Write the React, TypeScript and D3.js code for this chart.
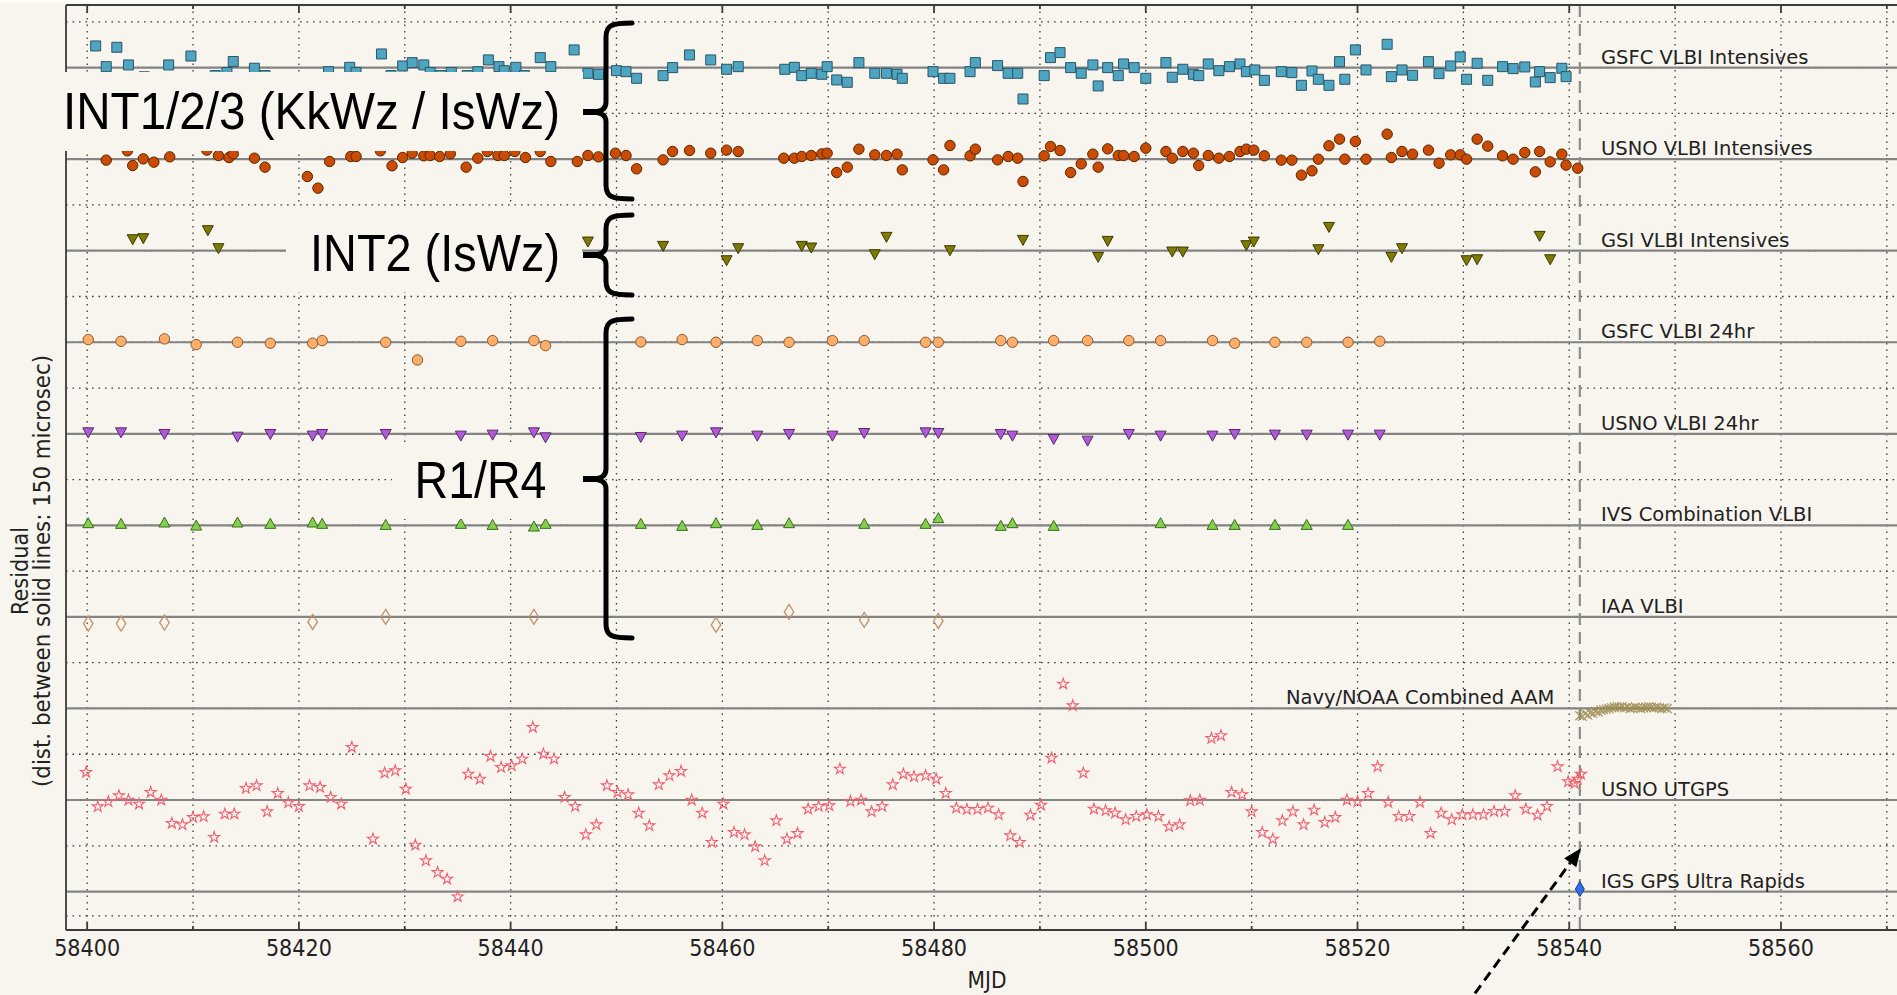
import React from 'react'
import * as d3 from 'd3'

// residual time series, one row per analysis centre; rows sit 150 microsec apart
const W = 1897
const H = 995
const BG = '#f7f5ee'
const ROW_STEP = 150

const rowLabels = [
  'GSFC VLBI Intensives', 'USNO VLBI Intensives', 'GSI VLBI Intensives',
  'GSFC VLBI 24hr', 'USNO VLBI 24hr', 'IVS Combination VLBI', 'IAA VLBI',
  'Navy/NOAA Combined AAM', 'USNO UTGPS', 'IGS GPS Ultra Rapids',
]
const xTicks = [58400, 58420, 58440, 58460, 58480, 58500, 58520, 58540, 58560]
const xDomain = [58398, 58572]
const yDomain = [102.6, -1413]
const extraGridY = -1390

// [MJD, residual in microsec]
const gsfcInt = [
  [58400.8, 35.5], [58401.8, 1.6], [58402.8, 33.3], [58403.9, 4.4], [58405.4, -15], [58407.7, 4.4],
  [58409.8, 19], [58412.1, -13], [58413.2, -8], [58413.8, 10], [58415.8, -1], [58416.8, -13],
  [58422.8, -6.6], [58424.8, 0.5], [58425.4, -8], [58427.8, 22.4], [58428.7, -13], [58429.8, 2.7],
  [58430.7, 8.2], [58431.8, 4.4], [58432.4, -8], [58433.4, -13], [58434.4, -8], [58435.9, -13],
  [58436.9, -6.6], [58437.9, 12.6], [58438.9, 1.6], [58439.4, -5], [58440.5, 0.5], [58441.3, -13],
  [58442.8, 16.4], [58443.8, 1.6], [58446.0, 29], [58447.3, -9.3], [58448.3, -11], [58450.0, -5],
  [58450.9, -6.6], [58451.9, -17.5], [58454.4, -13.1], [58455.3, 0], [58456.9, 20.8], [58458.9, 12.6],
  [58460.4, -2.7], [58461.5, 1.6], [58465.9, -2.7], [58466.8, 0.5], [58467.5, -13.1], [58468.4, -9.3],
  [58469.4, -10.9], [58469.9, 1.6], [58470.8, -20.2], [58471.8, -24], [58472.9, 8.2], [58474.4, -9.3],
  [58475.5, -9.3], [58476.5, -10.9], [58477.0, -17.5], [58479.9, -6.6], [58480.9, -17.5], [58481.5, -17.5],
  [58483.4, -6.6], [58483.9, 8.2], [58486.0, 3.3], [58487.0, -9.3], [58487.9, -9.3], [58488.4, -51.4],
  [58490.4, -13.1], [58491.0, 16.4], [58491.9, 24.6], [58492.9, 0], [58493.9, -9.3], [58495.0, 4.4],
  [58495.5, -30], [58496.4, 0], [58497.4, -13.1], [58497.9, 6], [58498.9, 0], [58500.0, -17.5],
  [58501.9, 8.2], [58502.5, -15.8], [58503.5, -2.7], [58504.5, -10.9], [58505.0, -13.1], [58505.9, 6],
  [58506.9, -5], [58507.9, 1.6], [58508.9, 6], [58509.5, -6.6], [58510.3, -3.8], [58511.2, -20.8],
  [58512.8, -6.6], [58513.8, -8.2], [58514.7, -29], [58515.7, -5.5], [58516.3, -19.1], [58517.3, -29],
  [58518.3, 9.8], [58518.8, -19.1], [58519.8, 29], [58520.8, -3.8], [58522.8, 38.2], [58523.2, -14.8],
  [58524.2, -3.8], [58525.2, -12.6], [58526.7, 9.8], [58527.7, -9.8], [58528.8, 2.7], [58529.7, 17.5],
  [58530.3, -19.1], [58531.3, 7.1], [58532.3, -20.8], [58533.7, 1.6], [58534.7, -1.6], [58535.8, 1.1],
  [58536.8, -23.5], [58537.2, -6.6], [58538.2, -16.4], [58539.3, -1.1], [58539.7, -14.8],
]

const usnoInt = [
  [58401.8, -1.6], [58403.8, 13.7], [58404.3, -10.4], [58405.3, 0.5], [58406.3, -4.9], [58407.8, 3.8],
  [58411.3, 14.8], [58412.4, 6], [58413.4, 2.7], [58413.8, 8.7], [58415.8, 1.6], [58416.8, -13.1],
  [58420.8, -28.4], [58421.8, -47.5], [58422.9, -3.8], [58424.9, 4.4], [58425.4, 4.4], [58427.7, 13.7],
  [58428.8, -10.9], [58429.8, 2.7], [58430.7, 9.8], [58431.8, 5.5], [58432.4, 6], [58433.3, 4.4],
  [58434.3, 8.7], [58435.8, -13.1], [58436.9, 1.6], [58437.8, 12.6], [58438.8, 6], [58439.4, 6],
  [58440.4, 12.6], [58441.4, 2.7], [58442.8, 12.6], [58443.8, -3.8], [58446.3, -3.8], [58447.3, 6],
  [58448.3, 3.8], [58449.9, 9.8], [58450.9, 6], [58451.9, -15.8], [58454.4, -1.1], [58455.3, 12.6],
  [58456.9, 14.2], [58458.9, 9.8], [58460.4, 14.8], [58461.5, 12.6], [58465.8, 1.6], [58466.8, 1.6],
  [58467.5, 4.4], [58468.4, 6], [58469.4, 8.7], [58469.9, 9.8], [58470.8, -21.9], [58471.8, -13.1],
  [58472.9, 16.4], [58474.4, 7.1], [58475.5, 6], [58476.5, 8.2], [58477.0, -17.5], [58479.9, -1.1],
  [58480.9, -17.5], [58481.5, 22.4], [58483.4, 5.5], [58483.9, 16.4], [58486.0, -1.1], [58487.0, 4.4],
  [58487.9, 1.6], [58488.4, -36.6], [58490.4, 5.5], [58491.0, 20.8], [58491.9, 14.2], [58492.9, -21.9],
  [58493.9, -7.7], [58495.0, 8.2], [58495.5, -13.1], [58496.4, 16.9], [58497.4, 6], [58497.9, 6],
  [58498.9, 4.4], [58500.0, 18], [58501.9, 12.6], [58502.5, 1.6], [58503.5, 12.6], [58504.5, 9.8],
  [58505.0, -10.4], [58505.9, 6], [58506.9, 1.6], [58507.9, 4.4], [58508.9, 12.6], [58509.5, 16.4],
  [58510.2, 14.8], [58511.2, 5.5], [58512.8, -1.6], [58513.8, -1.6], [58514.7, -26.2], [58515.7, -19.1],
  [58516.3, 0], [58517.3, 21.9], [58518.3, 32.8], [58518.8, 0], [58519.8, 29], [58520.8, 0],
  [58522.8, 41], [58523.2, 2.7], [58524.2, 12.6], [58525.2, 8.2], [58526.7, 14.8], [58527.7, -6.6],
  [58528.8, 7.1], [58529.7, 7.1], [58530.3, 0], [58531.3, 32.8], [58532.3, 21.3], [58533.7, 5.5],
  [58534.7, 0], [58535.8, 10.9], [58536.8, -20.8], [58537.2, 12.6], [58538.2, -4.4], [58539.3, 8.2],
  [58539.7, -9.8], [58540.8, -14.8],
]

const gsiInt = [
  [58404.3, 18], [58405.3, 19.7], [58411.4, 32.8], [58412.4, 3.3], [58447.3, 14.2], [58454.4, 7.1],
  [58460.4, -16.4], [58461.5, 3.3], [58467.5, 7.1], [58468.4, 4.4], [58474.4, -6.6], [58475.5, 21.9],
  [58481.5, 0], [58488.4, 16.9], [58495.5, -10.9], [58496.4, 15.3], [58502.5, -2.2], [58503.5, -2.2],
  [58509.5, 8.2], [58510.2, 14.2], [58516.3, 1.6], [58517.3, 38.2], [58523.2, -10.9], [58524.2, 3.3],
  [58530.3, -16.4], [58531.3, -14.8], [58537.2, 23.5], [58538.2, -14.8],
]

const gsfc24 = [
  [58400.1, 4.4], [58403.2, 1.6], [58407.3, 5.5], [58410.3, -3.8], [58414.2, 0], [58417.3, -1.6],
  [58421.3, -1.6], [58422.2, 2.7], [58428.2, 0], [58431.2, -29], [58435.3, 1.6], [58438.3, 2.7],
  [58442.2, 2.7], [58443.3, -5.5], [58452.3, 0.5], [58456.2, 4.4], [58459.4, 0], [58463.3, 2.7],
  [58466.3, 0], [58470.4, 2.7], [58473.4, 2.7], [58479.2, 0], [58480.4, 0], [58486.3, 2.7],
  [58487.4, 0], [58491.3, 2.7], [58494.5, 2.7], [58498.4, 2.7], [58501.4, 2.7], [58506.3, 2.7],
  [58508.4, -1.6], [58512.2, 0], [58515.2, 0], [58519.1, 0], [58522.1, 1.6],
]

const usno24 = [
  [58400.1, 1.6], [58403.2, 1.6], [58407.3, -1.1], [58414.2, -5.5], [58417.3, -1.1], [58421.3, -3.8],
  [58422.2, -1.1], [58428.2, -1.1], [58435.3, -3.8], [58438.3, -2.2], [58442.2, 1.6], [58443.3, -6.6],
  [58452.3, -6], [58456.2, -3.8], [58459.4, 1.6], [58463.3, -3.8], [58466.3, -1.1], [58470.4, -3.8],
  [58473.4, 0.5], [58479.2, 1.6], [58480.4, 0.5], [58486.3, -1.1], [58487.4, -3.8], [58491.3, -9.3],
  [58494.5, -12], [58498.4, -1.1], [58501.4, -3.8], [58506.3, -3.8], [58508.4, -1.1], [58512.2, -2.2],
  [58515.2, -2.2], [58519.1, -2.2], [58522.1, -2.2],
]

const ivsComb = [
  [58400.1, 4.4], [58403.2, 3.3], [58407.3, 5.5], [58410.3, 0.5], [58414.2, 5.5], [58417.3, 3.3],
  [58421.3, 5.5], [58422.2, 3.3], [58428.2, 1.6], [58435.3, 3.3], [58438.3, 1.6], [58442.2, -1.1],
  [58443.3, 3.3], [58452.3, 3.3], [58456.2, 0], [58459.4, 4.4], [58463.3, 1.6], [58466.3, 4.4],
  [58473.4, 3.3], [58479.2, 3.3], [58480.4, 12.6], [58486.3, 0], [58487.4, 4.4], [58491.3, 0],
  [58501.4, 4.4], [58506.3, 1.6], [58508.4, 1.6], [58512.2, 1.6], [58515.2, 1.6], [58519.1, 1.6],
]

const iaa = [
  [58400.1, -10.9], [58403.2, -10.9], [58407.3, -9.3], [58421.3, -8.2], [58428.2, 0], [58442.2, 0],
  [58459.4, -13.1], [58466.3, 8.2], [58473.4, -4.9], [58480.4, -6.6],
]

const navyMjd = [
  58541.0, 58541.25, 58541.5, 58541.75, 58542.0, 58542.25, 58542.5, 58542.75, 58543.0, 58543.25,
  58543.5, 58543.75, 58544.0, 58544.25, 58544.5, 58544.75, 58545.0, 58545.25, 58545.5, 58545.75,
  58546.0, 58546.25, 58546.5, 58546.75, 58547.0, 58547.25, 58547.5, 58547.75, 58548.0, 58548.25,
  58548.5, 58548.75, 58549.0, 58549.25,
]
const navyRes = [
  -12, -13, -9, -11, -7, -8, -5, -6, -3, -2, -1, 0, 1, 2, 3, 2, 3, 1, 2, 0,
  1, 2, 1, 0, 1, 2, 3, 2, 1, 2, 1, 0, 1, 0,
]

const utgps = [
  [58399.9, 45.4], [58401.0, -10.9], [58402.0, -2.7], [58403.0, 7.1], [58403.9, 0], [58404.9, -6.6],
  [58406.0, 12.6], [58407.0, 0], [58408.0, -38.2], [58409.0, -40.4], [58410.0, -28.4], [58411.0, -27.3],
  [58412.0, -61.2], [58413.0, -22.9], [58413.9, -22.9], [58415.0, 19.1], [58416.0, 23.5], [58417.0, -19.1],
  [58418.0, 10.9], [58419.0, -4.4], [58420.0, -10.4], [58421.0, 23.5], [58422.0, 20.8], [58423.0, 4.4],
  [58424.0, -6.6], [58425.0, 86.3], [58427.0, -63.9], [58428.1, 44.3], [58429.1, 48.1], [58430.1, 18],
  [58431.0, -73.8], [58432.0, -99.4], [58433.1, -118.6], [58434.0, -129.5], [58435.0, -158.5], [58436.0, 42.6],
  [58437.1, 34.4], [58438.1, 71.6], [58439.1, 53.5], [58440.1, 56.3], [58441.1, 67.2], [58442.1, 119.1],
  [58443.1, 75.4], [58444.1, 67.2], [58445.1, 4.4], [58446.1, -10.4], [58447.1, -56.8], [58448.1, -40.4],
  [58449.1, 23.5], [58450.1, 12.6], [58451.1, 8.7], [58452.1, -21.3], [58453.1, -42.1], [58454.0, 25.1],
  [58455.0, 39.9], [58456.1, 47], [58457.1, 0], [58458.1, -21.3], [58459.0, -69.4], [58460.1, -6.6],
  [58461.1, -53], [58462.1, -56.8], [58463.1, -76.5], [58464.0, -99.4], [58465.1, -33.9], [58466.1, -63.9],
  [58467.1, -54.6], [58468.1, -14.8], [58469.1, -10.4], [58470.1, -9.3], [58471.1, 50.8], [58472.1, -2.2],
  [58473.1, 0], [58474.1, -19.1], [58475.1, -10.4], [58476.1, 25.1], [58477.1, 42.6], [58478.1, 38.2],
  [58479.2, 39.9], [58480.2, 34.4], [58481.1, 10.9], [58482.1, -13.1], [58483.1, -15.3], [58484.1, -15.3],
  [58485.1, -13.1], [58486.1, -24], [58487.2, -58.5], [58488.1, -69.4], [58489.1, -24.6], [58490.1, -8.2],
  [58491.1, 68.8], [58492.2, 190.1], [58493.1, 154.6], [58494.1, 44.3], [58495.1, -14.8], [58496.2, -17.5],
  [58497.1, -21.3], [58498.1, -32.2], [58499.1, -26.8], [58500.1, -24], [58501.2, -26.8], [58502.2, -43.7],
  [58503.2, -40.4], [58504.2, -1.1], [58505.1, 0], [58506.2, 101.1], [58507.1, 105.5], [58508.1, 12.6],
  [58509.1, 8.7], [58510.0, -19.1], [58511.0, -53], [58512.0, -63.9], [58512.9, -33.9], [58513.9, -19.1],
  [58514.9, -40.4], [58515.9, -16.4], [58516.9, -36.6], [58517.9, -28.4], [58519.0, 0], [58520.0, -2.7],
  [58521.0, 10.9], [58521.9, 54.6], [58522.9, -3.8], [58523.9, -26.8], [58524.9, -26.8], [58525.9, -3.8],
  [58526.9, -54.6], [58527.9, -21.3], [58528.9, -32.2], [58529.9, -24], [58530.9, -24], [58531.9, -24],
  [58532.9, -18.6], [58533.9, -18.6], [58534.9, 7.1], [58535.9, -14.8], [58537.0, -24.6], [58537.9, -10.4],
  [58538.9, 54.6], [58539.9, 30.1], [58540.5, 27.3], [58540.8, 34.4], [58541.1, 42.6],
]

const igs = [[58541.0, 4]]

const cutoffMjd = 58541
const labelMjd = 58543
const navyLabelMjd = 58538.6

// marker shapes (centred on the data point)
const squarePath = (s: number) => `M${-s / 2},${-s / 2}h${s}v${s}h${-s}Z`
const triDown = (w: number, h: number) => `M${-w / 2},${-h / 2}L${w / 2},${-h / 2}L0,${h / 2}Z`
const triUp = (w: number, h: number) => `M0,${-h / 2}L${w / 2},${h / 2}L${-w / 2},${h / 2}Z`
const thinDiamond = (w: number, h: number) => `M0,${-h / 2}L${w / 2},0L0,${h / 2}L${-w / 2},0Z`
const xMark = (s: number) => `M${-s},${-s}L${s},${s}M${-s},${s}L${s},${-s}`
const starPath = (r: number) => {
  const pts = d3.range(10).map(i => {
    const a = -Math.PI / 2 + (i * Math.PI) / 5
    const rr = i % 2 ? r * 0.382 : r
    return `${(rr * Math.cos(a)).toFixed(2)},${(rr * Math.sin(a)).toFixed(2)}`
  })
  return 'M' + pts.join('L') + 'Z'
}

const bracePath = (xTip: number, xs: number, xe: number, y1: number, ym: number, y2: number) =>
  `M${xe},${y1} C${xs + 6},${y1} ${xs},${y1 + 2} ${xs},${y1 + 14} L${xs},${ym - 10} ` +
  `C${xs},${ym - 3} ${xs - 4},${ym} ${xTip + 6},${ym} ` +
  `M${xTip + 6},${ym} C${xs - 4},${ym} ${xs},${ym + 3} ${xs},${ym + 10} L${xs},${y2 - 14} ` +
  `C${xs},${y2 - 2} ${xs + 6},${y2} ${xe},${y2}`

export default function App() {
  const x = d3.scaleLinear().domain(xDomain).range([66, 1908])
  const y = d3.scaleLinear().domain(yDomain).range([5, 930])
  const rowY = (row: number, res: number) => y(-ROW_STEP * row + res)

  const left = x(xDomain[0])
  const top = y(yDomain[0])
  const bottom = y(yDomain[1])

  const vGrid = d3.range(58400, xDomain[1] + 0.1, 10)
  const hGrid = d3.range(75, -1300, -75).concat([extraGridY])
  const minorTicks = d3.range(58410, xDomain[1], 20)

  const font = 'DejaVu Sans, Verdana, sans-serif'
  const bigFont = 'Liberation Sans, Arial, Helvetica, sans-serif'

  const star = starPath(5.8)
  const sq = squarePath(10)
  const tDown = triDown(11, 10)
  const tUp = triUp(11, 10)
  const dia = thinDiamond(9.5, 15)
  const xm = xMark(4.5)

  // dashed arrow pointing at the cut-off line
  const tip = [x(58541.1), y(-1279)]
  const tail = [x(58530.2), y(-1538)]
  const dx = tip[0] - tail[0]
  const dy = tip[1] - tail[1]
  const len = Math.hypot(dx, dy)
  const ux = dx / len
  const uy = dy / len
  const headL = 18
  const headW = 7.5
  const base = [tip[0] - ux * headL, tip[1] - uy * headL]
  const head = `M${tip[0]},${tip[1]}L${base[0] - uy * headW},${base[1] + ux * headW}L${base[0] + uy * headW},${base[1] - ux * headW}Z`

  const seriesG = (
    data: number[][], row: number, d: string, fill: string, stroke: string, sw = 1,
  ) => (
    <g fill={fill} stroke={stroke} strokeWidth={sw}>
      {data.map(([m, r], i) => (
        <path key={i} d={d} transform={`translate(${x(m)},${rowY(row, r)})`} />
      ))}
    </g>
  )
  const circlesG = (data: number[][], row: number, fill: string, stroke: string) => (
    <g fill={fill} stroke={stroke} strokeWidth={1}>
      {data.map(([m, r], i) => (
        <circle key={i} cx={x(m)} cy={rowY(row, r)} r={5.2} />
      ))}
    </g>
  )

  return (
    <svg width={W} height={H} style={{ position: 'absolute', left: 0, top: 0, display: 'block' }}>
      <rect width={W} height={H} fill={BG} />
      <rect width={W} height={3} fill="#fcfcfa" />
      <defs>
        <clipPath id="plot">
          <rect x={left} y={top} width={x(xDomain[1]) - left} height={bottom - top} />
        </clipPath>
      </defs>

      <g clipPath="url(#plot)">
        {/* dotted grid */}
        <g stroke="#3a3a3a" strokeWidth={1.3} strokeDasharray="1.6 4.9">
          {vGrid.map(v => (
            <line key={v} x1={x(v)} x2={x(v)} y1={top} y2={bottom} />
          ))}
          {hGrid.map(v => (
            <line key={v} x1={left} x2={W} y1={y(v)} y2={y(v)} />
          ))}
        </g>
        {/* solid row baselines */}
        <g stroke="#848484" strokeWidth={2.2}>
          {rowLabels.map((_, i) => (
            <line key={i} x1={left} x2={W} y1={rowY(i, 0)} y2={rowY(i, 0)} />
          ))}
        </g>
        <line x1={x(cutoffMjd)} x2={x(cutoffMjd)} y1={top} y2={bottom}
          stroke="#8c8c8c" strokeWidth={2.2} strokeDasharray="12 7" />

        {seriesG(gsfcInt, 0, sq, '#4ea5c1', '#2c5566')}
        {circlesG(usnoInt, 1, '#c94b04', '#5a2500')}
        {seriesG(gsiInt, 2, tDown, '#7d7a05', '#3b3a00')}
        {circlesG(gsfc24, 3, '#fdae6b', '#8a5a30')}
        {seriesG(usno24, 4, tDown, '#b15ad8', '#552a6a')}
        {seriesG(ivsComb, 5, tUp, '#84d04a', '#3d6a20')}
        {seriesG(iaa, 6, dia, 'none', '#c09268', 1.3)}
        <g fill="none" stroke="#9a8a4c" strokeWidth={1.2} opacity={0.85}>
          {navyMjd.map((m, i) => (
            <path key={i} d={xm} transform={`translate(${x(m)},${rowY(7, navyRes[i])})`} />
          ))}
        </g>
        {seriesG(utgps, 8, star, 'none', '#f25f6e', 1.1)}
        {seriesG(igs, 9, thinDiamond(9, 15), '#2f6ef0', '#1a3a8a')}
      </g>

      {/* row labels */}
      <g fontFamily={font} fontSize={19.5} fill="#222">
        {rowLabels.map((t, i) =>
          i === 7 ? (
            <text key={t} x={x(navyLabelMjd)} y={rowY(i, 0) - 4} textAnchor="end">{t}</text>
          ) : (
            <text key={t} x={x(labelMjd)} y={rowY(i, 0) - 4}>{t}</text>
          ),
        )}
      </g>

      {/* spines and ticks */}
      <g stroke="#3c3c3c" strokeWidth={1.8} fill="none">
        <line x1={left} x2={left} y1={top} y2={bottom} />
        <line x1={left} x2={W} y1={top} y2={top} />
        <line x1={left} x2={W} y1={bottom} y2={bottom} />
        {xTicks.map(t => (
          <g key={t}>
            <line x1={x(t)} x2={x(t)} y1={bottom} y2={bottom - 8} />
            <line x1={x(t)} x2={x(t)} y1={top} y2={top + 8} />
          </g>
        ))}
        {minorTicks.map(t => (
          <g key={t}>
            <line x1={x(t)} x2={x(t)} y1={bottom} y2={bottom - 4} />
            <line x1={x(t)} x2={x(t)} y1={top} y2={top + 4} />
          </g>
        ))}
      </g>
      <g fontFamily={font} fontSize={22.5} fill="#222" textAnchor="middle">
        {xTicks.map(t => (
          <text key={t} x={x(t)} y={956} textLength={66} lengthAdjust="spacingAndGlyphs">{t}</text>
        ))}
        <text x={(left + x(xDomain[1])) / 2} y={988} textLength={39} lengthAdjust="spacingAndGlyphs">MJD</text>
      </g>
      <g fontFamily={font} fontSize={23} fill="#222" textAnchor="middle">
        <text transform="translate(28,571) rotate(-90)" textLength={88} lengthAdjust="spacingAndGlyphs">Residual</text>
        <text transform="translate(50,571) rotate(-90)" textLength={432} lengthAdjust="spacingAndGlyphs">
          (dist. between solid lines: 150 microsec)
        </text>
      </g>

      {/* annotation boxes */}
      <g fill={BG}>
        <rect x={50} y={72} width={533} height={79} />
        <rect x={286} y={206} width={296} height={86} />
        <rect x={392} y={443} width={190} height={76} />
      </g>
      <g fontFamily={bigFont} fontSize={52} fill="#000">
        <text x={63} y={129} textLength={497} lengthAdjust="spacingAndGlyphs">INT1/2/3 (KkWz / IsWz)</text>
        <text x={310} y={271} textLength={250} lengthAdjust="spacingAndGlyphs">INT2 (IsWz)</text>
        <text x={414.5} y={497.5} textLength={132} lengthAdjust="spacingAndGlyphs">R1/R4</text>
      </g>
      <g stroke="#000" strokeWidth={5} fill="none" strokeLinecap="round">
        <path d={bracePath(583, 606, 632, 23, 112, 199)} />
        <line x1={583} x2={600} y1={112} y2={112} strokeWidth={6} strokeLinecap="butt" />
        <path d={bracePath(583, 606, 632, 215, 255, 295)} />
        <line x1={583} x2={600} y1={255} y2={255} strokeWidth={6} strokeLinecap="butt" />
        <path d={bracePath(583, 606, 632, 319, 479, 638)} />
        <line x1={583} x2={600} y1={479} y2={479} strokeWidth={6} strokeLinecap="butt" />
      </g>

      {/* dashed arrow */}
      <line x1={tail[0]} y1={tail[1]} x2={base[0]} y2={base[1]} stroke="#000" strokeWidth={3}
        strokeDasharray="10 6" />
      <path d={head} fill="#000" />
    </svg>
  )
}
